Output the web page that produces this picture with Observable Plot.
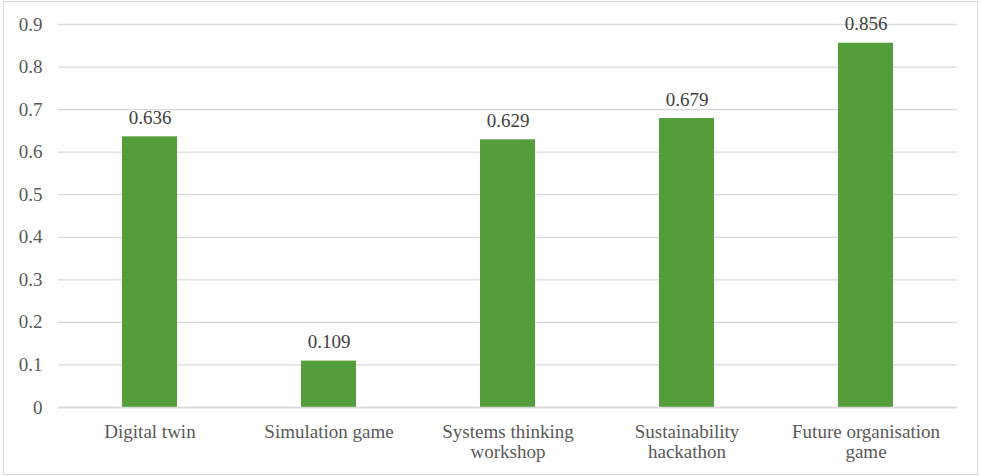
<!DOCTYPE html>
<html>
<head>
<meta charset="utf-8">
<script src="https://cdn.jsdelivr.net/npm/d3@7"></script>
<script src="https://cdn.jsdelivr.net/npm/@observablehq/plot@0.6"></script>
<style>
  html, body { margin: 0; padding: 0; background: #fff; }
  #wrap { position: relative; width: 981px; height: 476px; }
  #border { position: absolute; left: 3px; top: 1px; width: 973px; height: 472px; border: 1px solid #d9d9d9; pointer-events: none; }
</style>
</head>
<body>
<div id="wrap"><div id="border"></div></div>
<script>
const categories = ["Digital twin", "Simulation game", "Systems thinking workshop", "Sustainability hackathon", "Future organisation game"];
const tickLabels = ["Digital twin", "Simulation game", "Systems thinking\nworkshop", "Sustainability\nhackathon", "Future organisation\ngame"];
const values = [0.636, 0.109, 0.629, 0.679, 0.856];
const yTicks = [0, 0.1, 0.2, 0.3, 0.4, 0.5, 0.6, 0.7, 0.8, 0.9];

const data = categories.map((c, i) => ({category: c, value: values[i], label: values[i].toFixed(3)}));
const labelOf = new Map(categories.map((c, i) => [c, tickLabels[i]]));
const FONT = "Liberation Serif";

const chart = Plot.plot({
  width: 981,
  height: 476,
  marginLeft: 58,
  marginRight: 24,
  marginTop: 24,
  marginBottom: 69,
  style: {fontFamily: FONT, fontSize: "19px", color: "#595959", background: "transparent"},
  x: {domain: categories, paddingInner: 0.69, paddingOuter: 0.345, label: null},
  y: {domain: [0, 0.9], label: null},
  marks: [
    Plot.gridY(yTicks, {stroke: "#d9d9d9", strokeOpacity: 1, strokeWidth: 1.3}),
    Plot.barY(data, {x: "category", y: "value", fill: "#539e3a"}),
    Plot.ruleY([0], {stroke: "#d9d9d9", strokeWidth: 1.5}),
    Plot.text(data, {x: "category", y: "value", text: "label", lineAnchor: "bottom", dy: -13, fill: "#404040", fontSize: 19, fontFamily: FONT}),
    Plot.axisY(yTicks, {tickSize: 0, tickPadding: 16, tickFormat: d => d === 0 ? "0" : d.toFixed(1), fontSize: 19, fontFamily: FONT, label: null}),
    Plot.axisX({tickSize: 0, tickPadding: 16, tickFormat: d => labelOf.get(d), lineHeight: 1.05, fontSize: 19, fontFamily: FONT, label: null})
  ]
});
chart.setAttribute("font-family", FONT);
chart.querySelectorAll("text, tspan").forEach(t => t.style.fontFamily = "'" + FONT + "'");
document.getElementById("wrap").appendChild(chart);
chart.style.position = "absolute";
chart.style.left = "0";
chart.style.top = "0";
</script>
</body>
</html>
